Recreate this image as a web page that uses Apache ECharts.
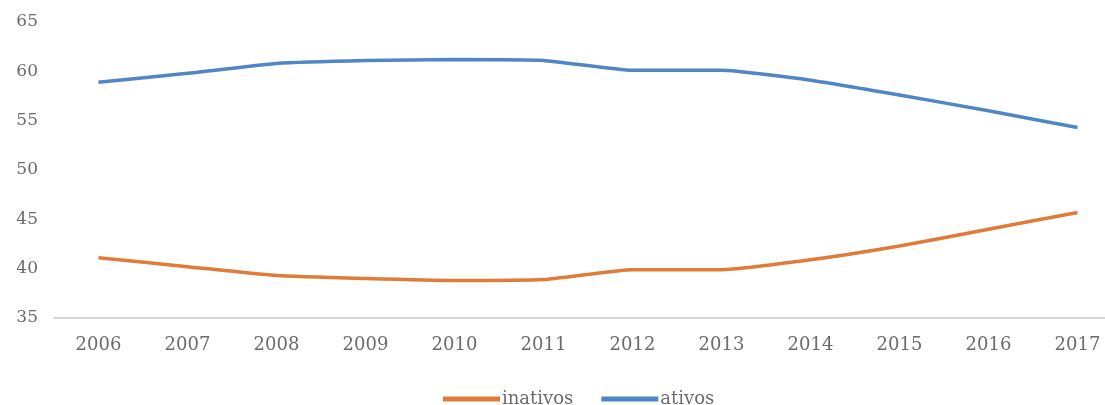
<!DOCTYPE html>
<html>
<head>
<meta charset="utf-8">
<script src="https://cdn.jsdelivr.net/npm/echarts@6/dist/echarts.min.js"></script>
<style>
  html, body { margin: 0; padding: 0; background: #fff; }
  #chart { width: 1105px; height: 405px; }
</style>
</head>
<body>
<div id="chart"></div>
<script>
// anos (eixo x)
const anos = ["2006", "2007", "2008", "2009", "2010", "2011", "2012", "2013", "2014", "2015", "2016", "2017"];

// valores
const inativos = [41.1, 40.2, 39.3, 39.0, 38.8, 38.9, 39.9, 39.9, 40.9, 42.3, 44.0, 45.7];
const ativos = [58.9, 59.8, 60.8, 61.1, 61.2, 61.1, 60.1, 60.1, 59.1, 57.6, 56.0, 54.3];

const corTexto = "#6b6b6b";
const fonte = "DejaVu Serif";

const chart = echarts.init(document.getElementById("chart"));

const option = {
    animation: false,
    // a área do gráfico passa da borda direita, como no original
    grid: { left: 54, width: 1068, top: 22, bottom: 87, outerBoundsMode: "none", containLabel: false },
    legend: {
        top: 385,
        left: 438,
        icon: "rect",
        itemWidth: 57,
        itemHeight: 5,
        itemGap: 28,
        textStyle: { color: corTexto, fontFamily: fonte, fontSize: 18, padding: [0, 0, 0, -3] },
        data: ["inativos", "ativos"]
    },
    xAxis: {
        type: "category",
        data: anos,
        boundaryGap: true,
        axisLine: { lineStyle: { color: "#c8c8c8", width: 1.5 } },
        axisTick: { show: false },
        axisLabel: { color: corTexto, fontFamily: fonte, fontSize: 18, margin: 18 }
    },
    yAxis: {
        type: "value",
        min: 35,
        max: 65,
        interval: 5,
        splitLine: { show: false },
        axisLine: { show: false },
        axisTick: { show: false },
        axisLabel: { color: corTexto, fontFamily: fonte, fontSize: 17, margin: 16 }
    },
    series: [
        {
            name: "inativos",
            type: "line",
            data: inativos,
            color: "#e07b39",
            smooth: 0.15,
            showSymbol: false,
            lineStyle: { width: 3.5 }
        },
        {
            name: "ativos",
            type: "line",
            data: ativos,
            color: "#4f86c6",
            smooth: 0.15,
            showSymbol: false,
            lineStyle: { width: 3.5 }
        }
    ]
};

chart.setOption(option);
</script>
</body>
</html>
